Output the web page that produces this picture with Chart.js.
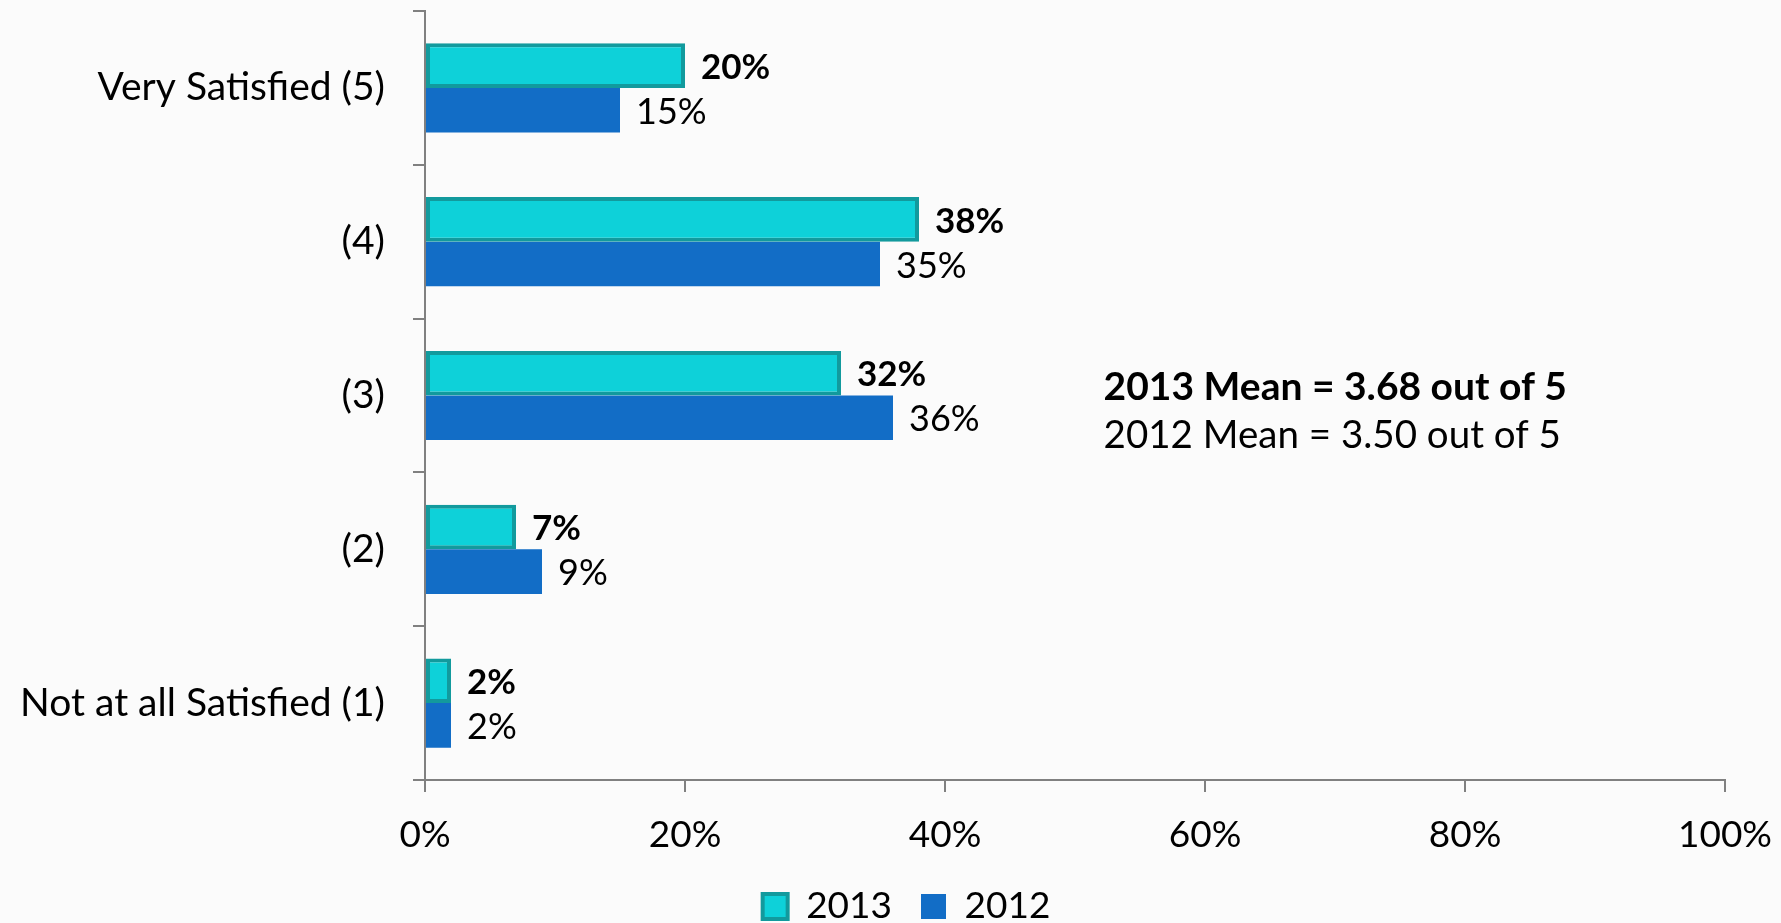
<!DOCTYPE html>
<html>
<head>
<meta charset="utf-8">
<script src="https://cdn.jsdelivr.net/npm/chart.js@4.4.0/dist/chart.umd.min.js"></script>
<style>
  html, body { margin: 0; padding: 0; background: #fbfbfb; }
  #wrap { width: 1781px; height: 923px; }
</style>
</head>
<body>
<div id="wrap"><canvas id="chart" width="1781" height="923"></canvas></div>
<script>
const categories = ["Very Satisfied (5)", "(4)", "(3)", "(2)", "Not at all Satisfied (1)"];
const values2013 = [20, 38, 32, 7, 2];
const values2012 = [15, 35, 36, 9, 2];
const seriesNames = ["2013", "2012"];
const meanLines = ["2013 Mean = 3.68 out of 5", "2012 Mean = 3.50 out of 5"];

const FONT = "Lato";

// value labels to the right of each bar
const barLabels = {
  id: "barLabels",
  afterDatasetsDraw(chart) {
    const ctx = chart.ctx;
    ctx.save();
    ctx.fillStyle = "#000";
    ctx.textBaseline = "middle";
    ctx.textAlign = "left";
    chart.data.datasets.forEach((ds, i) => {
      const meta = chart.getDatasetMeta(i);
      ctx.font = i === 0 ? "bold 35px " + FONT : "36px " + FONT;
      meta.data.forEach((bar, j) => {
        ctx.fillText(ds.data[j] + "%", bar.x + 16, bar.y + 2);
      });
    });
    ctx.restore();
  },
};

// the two mean lines in the plot area
const meanText = {
  id: "meanText",
  afterDraw(chart) {
    const ctx = chart.ctx;
    const x = chart.scales.x.getPixelForValue(52.2);
    ctx.save();
    ctx.fillStyle = "#000";
    ctx.textBaseline = "middle";
    ctx.font = "bold 39px " + FONT;
    ctx.fillText(meanLines[0], x, 387);
    ctx.font = "38.5px " + FONT;
    ctx.fillText(meanLines[1], x, 436);
    ctx.restore();
  },
};

// legend sits a bit right of the page centre
const legendShift = {
  id: "legendShift",
  afterLayout(chart) {
    chart.legend.left += 16;
    chart.legend.right += 16;
  },
};

const chart = new Chart(document.getElementById("chart"), {
  type: "bar",
  data: {
    labels: categories,
    datasets: [
      {
        label: seriesNames[0],
        data: values2013,
        backgroundColor: "#0ed1d9",
        borderColor: "#129a9d",
        borderWidth: 4,
        borderSkipped: false,
        categoryPercentage: 0.58,
        barPercentage: 1,
      },
      {
        label: seriesNames[1],
        data: values2012,
        backgroundColor: "#126dc6",
        borderWidth: 0,
        categoryPercentage: 0.58,
        barPercentage: 1,
      },
    ],
  },
  options: {
    indexAxis: "y",
    responsive: false,
    animation: false,
    layout: { padding: { top: 11, right: 0, left: 0, bottom: -12 } },
    plugins: {
      tooltip: { enabled: false },
      legend: {
        position: "bottom",
        labels: {
          color: "#000",
          font: { family: FONT, size: 37 },
          boxWidth: 25,
          boxHeight: 25,
          padding: 29,
        },
      },
    },
    scales: {
      x: {
        min: 0,
        max: 100,
        ticks: {
          stepSize: 20,
          color: "#000",
          padding: 21,
          font: { family: FONT, size: 37 },
          callback: (v) => v + "%",
        },
        grid: { drawOnChartArea: false, drawTicks: true, tickLength: 12, color: "#808080", lineWidth: 2 },
        border: { color: "#808080", width: 2 },
        afterFit(scale) {
          scale.height = 79;
          scale.paddingLeft = 0;
          scale.paddingRight = 56;
        },
      },
      y: {
        ticks: {
          color: "#000",
          padding: 28,
          font: { family: FONT, size: 39 },
        },
        grid: { drawOnChartArea: false, drawTicks: true, tickLength: 12, color: "#808080", lineWidth: 2 },
        border: { color: "#808080", width: 2 },
        afterFit(scale) {
          scale.width = 425;
          scale.paddingTop = 0;
          scale.paddingBottom = 0;
        },
      },
    },
  },
  plugins: [barLabels, meanText, legendShift],
});
</script>
</body>
</html>
